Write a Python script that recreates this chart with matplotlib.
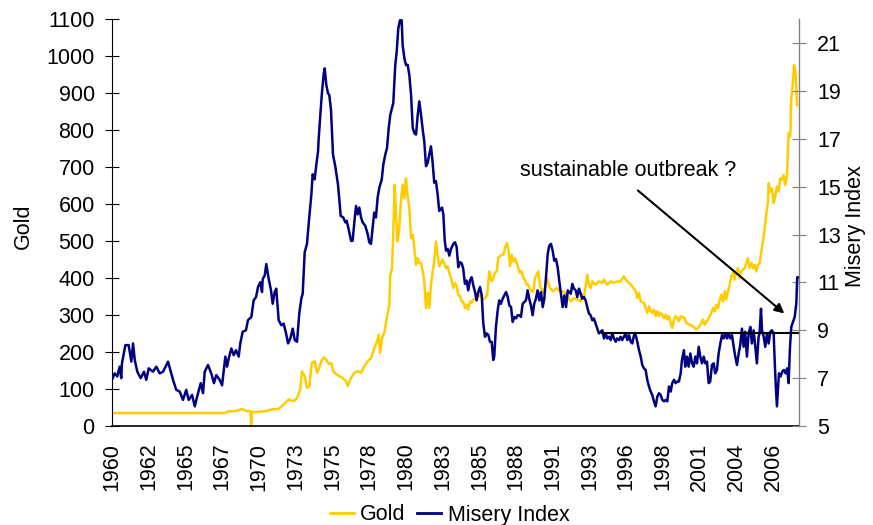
import matplotlib
matplotlib.use('Agg')
import matplotlib.pyplot as plt
from matplotlib.lines import Line2D

plt.rcParams['font.family'] = ['Liberation Sans', 'DejaVu Sans']

# gold price (USD/oz)
gold_year = [
    1960.08, 1968.03, 1968.28, 1968.75, 1969.22, 1969.57, 1969.81, 1969.86, 1969.93, 1970.40,
    1970.86, 1971.33, 1971.80, 1972.15, 1972.51, 1972.86, 1973.09, 1973.32, 1973.44, 1973.63,
    1973.79, 1973.95, 1974.14, 1974.33, 1974.50, 1974.66, 1974.80, 1974.97, 1975.13, 1975.32,
    1975.50, 1975.67, 1975.90, 1976.06, 1976.30, 1976.53, 1976.65, 1976.89, 1977.12, 1977.36,
    1977.59, 1977.83, 1978.06, 1978.29, 1978.53, 1978.69, 1978.84, 1978.93, 1979.07, 1979.23,
    1979.35, 1979.47, 1979.58, 1979.65, 1979.77, 1979.86, 1979.96, 1980.05, 1980.17, 1980.28,
    1980.40, 1980.52, 1980.64, 1980.75, 1980.87, 1980.99, 1981.11, 1981.23, 1981.34, 1981.46,
    1981.58, 1981.69, 1981.81, 1981.93, 1982.04, 1982.16, 1982.28, 1982.39, 1982.51, 1982.63,
    1982.74, 1982.86, 1982.98, 1983.09, 1983.21, 1983.33, 1983.44, 1983.57, 1983.69, 1983.80,
    1983.92, 1984.08, 1984.20, 1984.32, 1984.43, 1984.55, 1984.67, 1984.78, 1984.90, 1985.02,
    1985.13, 1985.25, 1985.37, 1985.49, 1985.72, 1985.96, 1986.19, 1986.31, 1986.47, 1986.61,
    1986.78, 1986.89, 1987.01, 1987.13, 1987.24, 1987.36, 1987.48, 1987.60, 1987.72, 1987.84,
    1987.95, 1988.07, 1988.19, 1988.30, 1988.42, 1988.54, 1988.65, 1988.77, 1988.89, 1989.01,
    1989.12, 1989.24, 1989.35, 1989.47, 1989.59, 1989.71, 1989.82, 1989.94, 1990.06, 1990.18,
    1990.30, 1990.41, 1990.53, 1990.65, 1990.88, 1991.11, 1991.35, 1991.58, 1991.82, 1992.05,
    1992.34, 1992.57, 1992.80, 1993.04, 1993.15, 1993.27, 1993.39, 1993.50, 1993.62, 1993.74,
    1993.86, 1994.09, 1994.32, 1994.56, 1994.68, 1994.91, 1995.15, 1995.38, 1995.61, 1995.85,
    1996.08, 1996.20, 1996.44, 1996.67, 1996.91, 1997.02, 1997.14, 1997.26, 1997.49, 1997.61,
    1997.72, 1997.84, 1997.96, 1998.07, 1998.19, 1998.31, 1998.43, 1998.55, 1998.66, 1998.78,
    1998.90, 1999.02, 1999.13, 1999.25, 1999.37, 1999.48, 1999.60, 1999.72, 1999.83, 1999.95,
    2000.07, 2000.35, 2000.46, 2000.70, 2000.93, 2001.17, 2001.41, 2001.64, 2001.76, 2001.99,
    2002.23, 2002.35, 2002.47, 2002.58, 2002.70, 2002.82, 2002.93, 2003.05, 2003.17, 2003.28,
    2003.40, 2003.52, 2003.63, 2003.75, 2003.87, 2003.98, 2004.10, 2004.22, 2004.33, 2004.57,
    2004.68, 2004.80, 2004.92, 2005.04, 2005.16, 2005.28, 2005.39, 2005.51, 2005.63, 2005.74,
    2005.86, 2005.98, 2006.09, 2006.21, 2006.26, 2006.37, 2006.49, 2006.61, 2006.72, 2006.84,
    2006.96, 2007.07, 2007.19, 2007.31, 2007.42, 2007.54, 2007.66, 2007.78, 2007.85, 2007.97,
    2008.04, 2008.13, 2008.20, 2008.25,
]
gold_price = [
    35, 35, 40, 40, 46, 40, 40, 0, 38, 38,
    40, 45, 46, 58, 72, 67, 76, 99, 148, 135,
    103, 107, 171, 175, 144, 158, 175, 186, 180, 168,
    170, 146, 139, 135, 130, 121, 108, 130, 144, 148,
    144, 162, 175, 184, 211, 225, 247, 198, 238, 252,
    279, 306, 328, 409, 427, 526, 652, 571, 499, 535,
    607, 652, 616, 670, 621, 589, 508, 517, 481, 436,
    454, 441, 441, 418, 391, 319, 360, 319, 382, 418,
    445, 499, 463, 432, 441, 450, 441, 427, 432, 414,
    400, 373, 387, 378, 355, 351, 337, 337, 319, 328,
    315, 337, 333, 342, 346, 355, 342, 346, 355, 418,
    391, 400, 414, 418, 454, 459, 463, 463, 481, 495,
    481, 432, 463, 445, 454, 441, 427, 414, 418, 400,
    396, 382, 382, 373, 364, 364, 400, 409, 418, 378,
    369, 360, 373, 400, 373, 364, 373, 364, 364, 355,
    337, 346, 342, 337, 355, 346, 378, 409, 382, 373,
    391, 382, 391, 387, 396, 382, 391, 387, 391, 391,
    405, 396, 387, 378, 364, 346, 360, 337, 333, 319,
    306, 324, 310, 306, 315, 297, 310, 297, 306, 301,
    292, 301, 288, 297, 279, 265, 288, 297, 292, 283,
    297, 292, 279, 274, 270, 261, 270, 288, 274, 288,
    306, 319, 310, 328, 319, 342, 355, 337, 364, 342,
    364, 382, 405, 414, 396, 418, 427, 400, 418, 427,
    441, 454, 427, 441, 427, 436, 418, 436, 441, 472,
    499, 535, 571, 607, 657, 634, 643, 603, 621, 648,
    634, 670, 666, 679, 652, 675, 792, 783, 886, 931,
    976, 963, 918, 868,
]

# misery index (inflation + unemployment)
misery_year = [
    1960.13, 1960.27, 1960.45, 1960.62, 1960.73, 1960.78, 1961.02, 1961.25, 1961.44, 1961.56,
    1961.68, 1961.86, 1962.10, 1962.33, 1962.49, 1962.66, 1962.96, 1963.20, 1963.43, 1963.67,
    1964.02, 1964.37, 1964.60, 1964.84, 1965.07, 1965.30, 1965.47, 1965.71, 1965.90, 1966.13,
    1966.32, 1966.48, 1966.60, 1966.83, 1967.06, 1967.25, 1967.41, 1967.65, 1967.82, 1968.05,
    1968.17, 1968.29, 1968.47, 1968.64, 1968.80, 1968.99, 1969.10, 1969.27, 1969.50, 1969.64,
    1969.88, 1970.04, 1970.21, 1970.35, 1970.51, 1970.63, 1970.68, 1970.82, 1970.93, 1971.10,
    1971.26, 1971.38, 1971.52, 1971.63, 1971.80, 1971.99, 1972.15, 1972.32, 1972.46, 1972.62,
    1972.79, 1972.93, 1973.09, 1973.25, 1973.39, 1973.49, 1973.63, 1973.79, 1973.95, 1974.10,
    1974.19, 1974.33, 1974.45, 1974.57, 1974.61, 1974.73, 1974.85, 1974.97, 1975.04, 1975.15,
    1975.27, 1975.36, 1975.48, 1975.62, 1975.78, 1975.97, 1976.09, 1976.16, 1976.34, 1976.49,
    1976.58, 1976.72, 1976.89, 1977.00, 1977.12, 1977.24, 1977.36, 1977.47, 1977.59, 1977.71,
    1977.89, 1978.06, 1978.17, 1978.29, 1978.41, 1978.52, 1978.64, 1978.76, 1978.88, 1979.05,
    1979.16, 1979.30, 1979.42, 1979.54, 1979.65, 1979.86, 1980.00, 1980.10, 1980.21, 1980.33,
    1980.45, 1980.52, 1980.64, 1980.75, 1980.87, 1980.99, 1981.11, 1981.23, 1981.34, 1981.46,
    1981.58, 1981.69, 1981.81, 1981.93, 1982.04, 1982.16, 1982.28, 1982.39, 1982.51, 1982.63,
    1982.74, 1982.86, 1982.98, 1983.09, 1983.29, 1983.38, 1983.48, 1983.57, 1983.69, 1983.80,
    1983.92, 1984.08, 1984.20, 1984.32, 1984.43, 1984.55, 1984.67, 1984.78, 1984.90, 1985.02,
    1985.13, 1985.25, 1985.37, 1985.49, 1985.61, 1985.72, 1985.84, 1985.96, 1986.08, 1986.19,
    1986.31, 1986.43, 1986.55, 1986.66, 1986.78, 1986.89, 1986.96, 1987.08, 1987.20, 1987.31,
    1987.43, 1987.55, 1987.67, 1987.79, 1987.91, 1988.02, 1988.14, 1988.26, 1988.37, 1988.49,
    1988.61, 1988.72, 1988.84, 1988.96, 1989.07, 1989.19, 1989.31, 1989.42, 1989.54, 1989.66,
    1989.77, 1989.89, 1990.01, 1990.13, 1990.25, 1990.37, 1990.48, 1990.60, 1990.72, 1990.83,
    1990.95, 1991.07, 1991.18, 1991.30, 1991.42, 1991.53, 1991.65, 1991.77, 1991.89, 1992.01,
    1992.13, 1992.22, 1992.34, 1992.45, 1992.57, 1992.69, 1992.80, 1992.92, 1993.04, 1993.15,
    1993.27, 1993.39, 1993.50, 1993.62, 1993.74, 1993.86, 1993.97, 1994.09, 1994.21, 1994.32,
    1994.44, 1994.56, 1994.68, 1994.80, 1994.91, 1995.03, 1995.15, 1995.26, 1995.38, 1995.50,
    1995.61, 1995.73, 1995.85, 1995.96, 1996.08, 1996.20, 1996.32, 1996.44, 1996.56, 1996.67,
    1996.79, 1996.91, 1997.02, 1997.14, 1997.26, 1997.37, 1997.49, 1997.61, 1997.72, 1997.84,
    1997.96, 1998.07, 1998.19, 1998.31, 1998.43, 1998.55, 1998.66, 1998.78, 1998.90, 1999.02,
    1999.13, 1999.25, 1999.37, 1999.48, 1999.60, 1999.72, 1999.83, 1999.95, 2000.07, 2000.16,
    2000.30, 2000.39, 2000.51, 2000.63, 2000.75, 2000.87, 2000.99, 2001.10, 2001.22, 2001.34,
    2001.45, 2001.57, 2001.69, 2001.80, 2001.92, 2002.04, 2002.15, 2002.27, 2002.39, 2002.50,
    2002.62, 2002.74, 2002.86, 2002.98, 2003.09, 2003.21, 2003.33, 2003.45, 2003.56, 2003.68,
    2003.80, 2003.91, 2004.03, 2004.15, 2004.26, 2004.38, 2004.50, 2004.61, 2004.73, 2004.85,
    2004.97, 2005.08, 2005.20, 2005.31, 2005.43, 2005.55, 2005.62, 2005.72, 2005.79, 2005.91,
    2006.02, 2006.14, 2006.26, 2006.37, 2006.49, 2006.61, 2006.68, 2006.75, 2006.84, 2006.91,
    2006.98, 2007.10, 2007.21, 2007.33, 2007.45, 2007.56, 2007.66, 2007.76, 2007.85, 2007.97,
    2008.09, 2008.20, 2008.27, 2008.34,
]
misery_value = [
    7.0, 7.2, 7.07, 7.48, 7.0, 7.62, 8.38, 8.38, 7.69, 8.45,
    7.76, 7.27, 7.0, 7.27, 6.93, 7.41, 7.27, 7.48, 7.2, 7.27,
    7.69, 6.93, 6.51, 6.44, 6.09, 6.51, 6.09, 6.3, 5.82, 6.37,
    6.79, 6.37, 7.27, 7.55, 7.2, 6.79, 7.13, 6.93, 6.7, 7.9,
    7.48, 7.83, 8.24, 7.96, 8.17, 7.9, 8.45, 8.94, 9.0, 9.42,
    9.56, 10.25, 10.39, 10.81, 11.01, 10.6, 11.15, 11.29, 11.77, 11.15,
    10.67, 10.11, 10.6, 10.74, 9.42, 9.21, 9.28, 8.87, 8.45, 8.66,
    9.07, 8.59, 8.52, 9.70, 10.32, 10.53, 12.26, 12.61, 13.72, 14.68,
    15.52, 15.31, 15.93, 16.48, 16.97, 18.01, 18.98, 19.74, 19.95, 19.26,
    18.91, 18.84, 18.22, 16.35, 15.86, 15.1, 14.3, 13.78, 13.72, 13.51,
    13.58, 13.23, 12.74, 12.74, 13.51, 14.2, 13.85, 14.13, 13.72, 13.51,
    13.37, 13.02, 12.68, 12.61, 13.3, 13.92, 13.72, 14.55, 14.96, 15.31,
    15.93, 16.35, 16.62, 17.46, 18.01, 18.5, 20.09, 20.64, 21.61, 21.96,
    21.96, 20.92, 20.37, 20.09, 20.1, 19.67, 18.84, 17.46, 17.25, 17.18,
    18.01, 18.57, 18.01, 17.39, 16.9, 15.86, 16.0, 16.35, 16.69, 16.0,
    15.17, 15.24, 14.68, 13.99, 14.13, 13.85, 12.74, 12.33, 12.4, 12.12,
    12.4, 12.61, 12.68, 12.47, 11.64, 11.85, 11.8, 11.57, 10.94, 11.08,
    10.67, 11.08, 11.22, 10.87, 10.6, 10.25, 10.6, 10.81, 10.46, 9.28,
    8.73, 8.87, 8.8, 8.52, 8.52, 7.76, 7.9, 9.14, 9.83, 10.25,
    10.11, 10.32, 10.46, 10.6, 10.39, 10.04, 9.97, 9.35, 9.56, 9.5,
    9.63, 9.63, 9.56, 10.11, 10.18, 10.25, 10.67, 10.32, 10.04, 9.63,
    10.11, 10.32, 10.67, 10.25, 10.6, 9.97, 10.32, 11.22, 12.19, 12.54,
    12.61, 12.33, 11.91, 11.98, 11.64, 11.08, 10.53, 9.97, 10.46, 9.97,
    10.67, 10.6, 10.53, 10.94, 10.74, 10.67, 10.39, 10.74, 10.53, 10.32,
    10.39, 10.25, 9.97, 9.7, 9.63, 9.42, 9.49, 9.28, 9.07, 8.87,
    8.94, 9.0, 8.66, 8.87, 8.66, 8.73, 8.59, 8.87, 8.66, 8.52,
    8.66, 8.59, 8.73, 8.59, 8.73, 8.87, 8.59, 8.8, 8.52, 8.45,
    8.8, 8.8, 8.52, 8.17, 7.9, 7.55, 7.41, 7.34, 6.93, 6.65,
    6.44, 6.3, 6.03, 5.82, 6.23, 6.37, 6.3, 6.09, 6.03, 6.09,
    6.03, 6.65, 6.44, 6.79, 6.93, 6.79, 6.86, 6.86, 7.2, 7.76,
    8.17, 7.48, 7.9, 7.48, 8.03, 7.62, 7.48, 7.9, 7.62, 8.31,
    7.9, 7.62, 7.9, 7.62, 7.69, 6.79, 6.86, 7.55, 7.62, 7.2,
    7.34, 8.03, 8.45, 8.8, 8.66, 8.87, 8.66, 8.87, 8.66, 8.8,
    8.31, 7.9, 7.55, 8.03, 8.38, 9.07, 8.31, 8.94, 7.9, 8.87,
    9.14, 8.45, 9.0, 8.38, 7.62, 8.73, 8.87, 9.9, 9.0, 8.73,
    8.31, 8.87, 8.45, 8.94, 9.0, 8.87, 7.76, 6.79, 5.82, 6.51,
    7.2, 7.07, 7.27, 7.34, 7.2, 7.41, 6.79, 8.31, 9.14, 9.35,
    9.56, 10.11, 11.22, 11.22,
]

tick_labels = ['1960', '1962', '1965', '1967', '1970', '1973', '1975', '1978', '1980', '1983',
               '1985', '1988', '1991', '1993', '1996', '1998', '2001', '2004', '2006']
# category axis: one label every 31 months, data starting Feb 1960
tick_pos = [1960 + (1 + 31 * k) / 12 for k in range(len(tick_labels))]

misery_level = 8.9
annot_text = 'sustainable outbreak ?'

GOLD_C = '#FFCC00'
NAVY_C = '#000080'
FS = 15.5

fig = plt.figure(figsize=(8.73, 5.25), dpi=100)
ax = fig.add_axes([0.1283, 0.1886, 0.7869, 0.7746])
ax2 = ax.twinx()

ax.plot(gold_year, gold_price, color=GOLD_C, lw=1.8, solid_joinstyle='round')
ax2.plot(misery_year, misery_value, color=NAVY_C, lw=1.8, solid_joinstyle='round')

ax.set_xlim(1960.08, 2008.39)
ax.set_ylim(0, 1100)
ax2.set_ylim(5, 22)
ax.set_yticks(range(0, 1101, 100))
ax2.set_yticks(range(5, 22, 2))
ax.set_xticks(tick_pos)
ax.set_xticklabels(tick_labels, rotation=90, fontsize=FS)

ax.tick_params(axis='x', length=0, pad=12)
ax.tick_params(axis='y', direction='inout', length=10, width=0.8, pad=7.5, labelsize=FS)
ax2.tick_params(axis='y', direction='inout', length=10, width=0.8, pad=8.2, labelsize=FS,
                color='#808080')

for s in ['top', 'right']:
    ax.spines[s].set_visible(False)
for s in ['top', 'left', 'bottom']:
    ax2.spines[s].set_visible(False)
ax.spines['left'].set_linewidth(0.8)
ax.spines['bottom'].set_linewidth(1.2)
ax2.spines['right'].set_color('#808080')
ax2.spines['right'].set_linewidth(1.0)

fig.text(23 / 873, 1 - 226 / 525, 'Gold', rotation=90, ha='center', va='center', fontsize=FS)
fig.text(856 / 873, 1 - 226 / 525, 'Misery Index', rotation=90, ha='center', va='center',
         fontsize=FS)

# horizontal reference line and annotation
ax2.plot([1994.56, 2008.39], [misery_level, misery_level], color='black', lw=1.5)
ax2.text(1988.77, 15.69, annot_text, ha='left', va='center', fontsize=FS)
ax2.annotate('', xy=(2007.51, 9.63), xytext=(1996.91, 14.92),
             arrowprops=dict(arrowstyle='-|>', color='black', lw=1.5, mutation_scale=14))

handles = [Line2D([], [], color=GOLD_C, lw=2), Line2D([], [], color=NAVY_C, lw=2)]
fig.legend(handles, ['Gold', 'Misery Index'], loc='center', bbox_to_anchor=(0.515, 1 - 515 / 525),
           ncol=2, frameon=False, fontsize=FS, handlelength=1.1, handletextpad=0.3,
           columnspacing=0.55, borderaxespad=0, borderpad=0)

fig.savefig('out.png', dpi=100)
